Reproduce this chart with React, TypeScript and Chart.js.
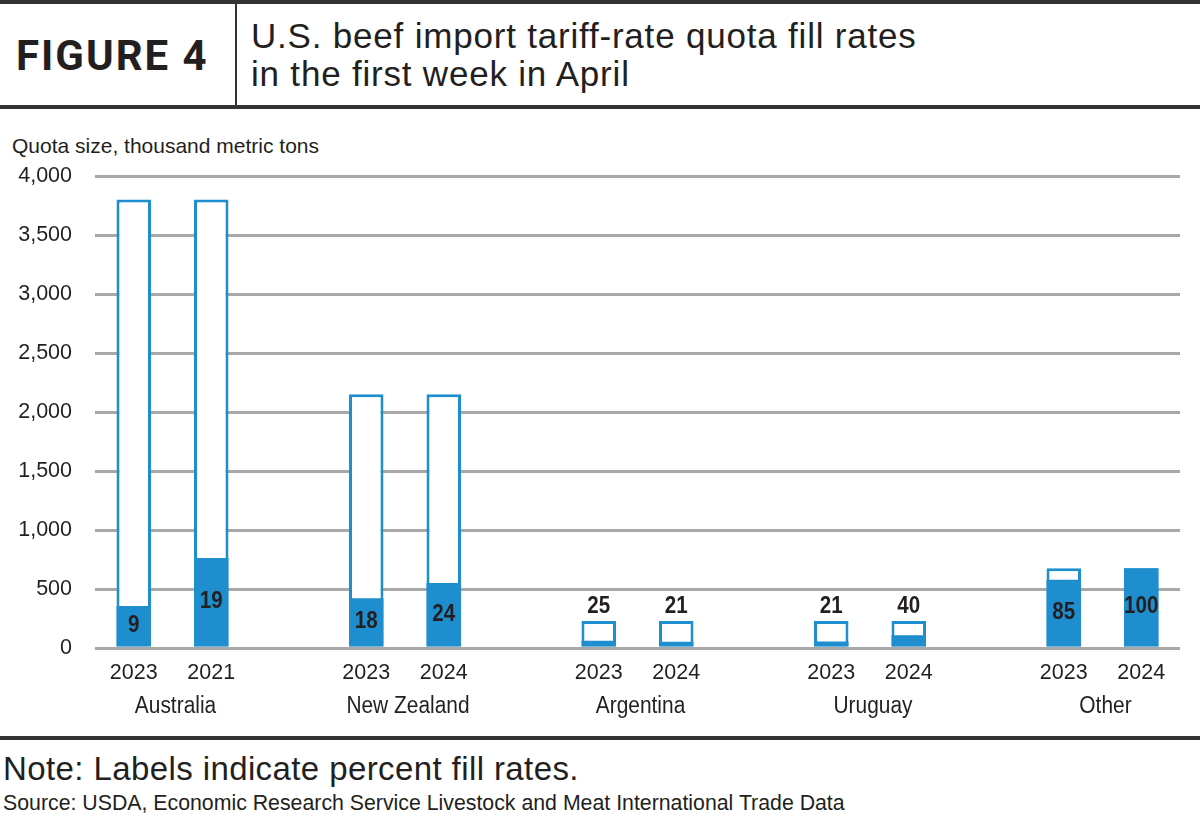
import React, { useEffect, useRef } from 'react';
import { Chart, registerables } from 'chart.js';

Chart.register(...registerables);

// ---------- data ----------
const groupNames = ['Australia', 'New Zealand', 'Argentina', 'Uruguay', 'Other'];
const yearLabels = ['2023', '2021', '2023', '2024', '2023', '2024', '2023', '2024', '2023', '2024'];
const quotaSize = [3800, 3800, 2150, 2150, 228, 228, 228, 228, 676, 676];
const filledAmount = [355, 762, 422, 550, 62, 52, 56, 108, 578, 676];
const fillRatePct = [9, 19, 18, 24, 25, 21, 21, 40, 85, 100];
const yMin = 0;
const yMax = 4000;
const yStep = 500;

const BARS_PER_GROUP = 2;

// build category slots with an empty slot between groups
const slotLabels: string[] = [];
const slotQuota: (number | null)[] = [];
const slotFilled: (number | null)[] = [];
const slotRate: (number | null)[] = [];
const slotGroup: (number | null)[] = [];
groupNames.forEach((_, g) => {
  for (let k = 0; k < BARS_PER_GROUP; k++) {
    const i = g * BARS_PER_GROUP + k;
    slotLabels.push(yearLabels[i]);
    slotQuota.push(quotaSize[i]);
    slotFilled.push(filledAmount[i]);
    slotRate.push(fillRatePct[i]);
    slotGroup.push(g);
  }
  if (g < groupNames.length - 1) {
    slotLabels.push('');
    slotQuota.push(null);
    slotFilled.push(null);
    slotRate.push(null);
    slotGroup.push(null);
  }
});

// ---------- styles ----------
const BLUE = '#1e8ece';
const GRID = '#a8a8a8';
const TEXT = '#231f20';
const SANS = '"Liberation Sans", Arial, Helvetica, sans-serif';

function drawNarrow(ctx: CanvasRenderingContext2D, text: string, x: number, y: number, sx: number) {
  ctx.save();
  ctx.translate(x, y);
  ctx.scale(sx, 1);
  ctx.fillText(text, 0, 0);
  ctx.restore();
}

const labelsPlugin = {
  id: 'fillLabels',
  afterDatasetsDraw(chart: any) {
    const ctx = chart.ctx;
    const fillMeta = chart.getDatasetMeta(0);
    const quotaMeta = chart.getDatasetMeta(1);
    ctx.save();
    ctx.fillStyle = TEXT;
    ctx.font = `bold 24.5px ${SANS}`;
    ctx.textAlign = 'center';
    slotRate.forEach((r, i) => {
      if (r == null) return;
      const fe = fillMeta.data[i];
      const qe = quotaMeta.data[i];
      const h = fe.base - fe.y;
      if (h >= 30) {
        ctx.textBaseline = 'middle';
        drawNarrow(ctx, String(r), fe.x, (fe.y + fe.base) / 2 - 1, 0.84);
      } else {
        ctx.textBaseline = 'alphabetic';
        drawNarrow(ctx, String(r), qe.x, qe.y - 8, 0.84);
      }
    });
    // group labels
    const xs = chart.scales.x;
    ctx.font = `23.5px ${SANS}`;
    ctx.textBaseline = 'middle';
    groupNames.forEach((name, g) => {
      const idx: number[] = [];
      slotGroup.forEach((sg, i) => { if (sg === g) idx.push(i); });
      const cx = idx.reduce((s, i) => s + xs.getPixelForValue(i), 0) / idx.length;
      drawNarrow(ctx, name, cx + 3, chart.chartArea.bottom + 59, 0.89);
    });
    ctx.restore();
  },
};

function ChartCanvas() {
  const ref = useRef<HTMLCanvasElement | null>(null);
  useEffect(() => {
    if (!ref.current) return;
    const chart = new Chart(ref.current, {
      type: 'bar',
      data: {
        labels: slotLabels,
        datasets: [
          {
            label: 'Filled',
            data: slotFilled,
            backgroundColor: BLUE,
            borderWidth: 0,
            grouped: false,
            barPercentage: 0.445,
            categoryPercentage: 1,
          },
          {
            label: 'Quota size',
            data: slotQuota,
            backgroundColor: '#ffffff',
            borderColor: BLUE,
            borderWidth: 3,
            borderSkipped: false,
            grouped: false,
            barPercentage: 0.445,
            categoryPercentage: 1,
          },
        ],
      } as any,
      options: {
        animation: false,
        responsive: false,
        devicePixelRatio: 1,
        layout: { padding: { top: 66, right: 20, left: 0, bottom: 0 } },
        plugins: {
          legend: { display: false },
          tooltip: { enabled: false },
          title: { display: false },
        },
        scales: {
          x: {
            grid: { display: false, drawTicks: false },
            border: { display: false },
            ticks: {
              autoSkip: false,
              maxRotation: 0,
              padding: 12,
              color: TEXT,
              font: { family: SANS, size: 21.5 },
            },
            afterFit(scale: any) { scale.height = 82; },
          },
          y: {
            min: yMin,
            max: yMax,
            border: { display: false },
            grid: { color: GRID, lineWidth: 3, drawTicks: false },
            ticks: {
              stepSize: yStep,
              padding: 23,
              color: TEXT,
              font: { family: SANS, size: 21.5 },
              callback: (v: any) => Number(v).toLocaleString('en-US'),
            },
            afterFit(scale: any) { scale.width = 95; },
          },
        },
      } as any,
      plugins: [labelsPlugin],
    });
    return () => chart.destroy();
  }, []);
  return <canvas ref={ref} width={1200} height={620} style={{ display: 'block' }} />;
}

export default function App() {
  useEffect(() => {
    document.body.style.margin = '0';
    document.body.style.background = '#ffffff';
  }, []);
  const abs: React.CSSProperties = { position: 'absolute', whiteSpace: 'nowrap', lineHeight: 1, color: TEXT };
  return (
    <div style={{ position: 'relative', width: 1200, height: 819, overflow: 'hidden', background: '#fff' }}>
      {/* header */}
      <div style={{ position: 'absolute', left: 0, top: 0, width: 1200, height: 4, background: '#333' }} />
      <div style={{ position: 'absolute', left: 235, top: 4, width: 2, height: 102, background: '#333' }} />
      <div style={{ position: 'absolute', left: 0, top: 105, width: 1200, height: 4, background: '#333' }} />
      <div style={{ ...abs, left: 16, top: 35, fontFamily: 'Roboto, sans-serif', fontWeight: 700, fontSize: 42, letterSpacing: 2 }}>FIGURE 4</div>
      <div style={{ ...abs, left: 251, top: 17, fontFamily: SANS, fontSize: 35, lineHeight: '38px', letterSpacing: 0.8 }}>
        U.S. beef import tariff-rate quota fill rates<br />in the first week in April
      </div>
      {/* axis title */}
      <div style={{ ...abs, left: 12, top: 135, fontFamily: SANS, fontSize: 21 }}>Quota size, thousand metric tons</div>
      {/* chart */}
      <div style={{ position: 'absolute', left: 0, top: 110, width: 1200, height: 620 }}>
        <ChartCanvas />
      </div>
      {/* footer */}
      <div style={{ position: 'absolute', left: 0, top: 736, width: 1200, height: 4, background: '#333' }} />
      <div style={{ ...abs, left: 3, top: 752, fontFamily: SANS, fontSize: 33, letterSpacing: 0.4 }}>Note: Labels indicate percent fill rates.</div>
      <div style={{ ...abs, left: 3, top: 793, fontFamily: SANS, fontSize: 21.3 }}>Source: USDA, Economic Research Service Livestock and Meat International Trade Data</div>
    </div>
  );
}
